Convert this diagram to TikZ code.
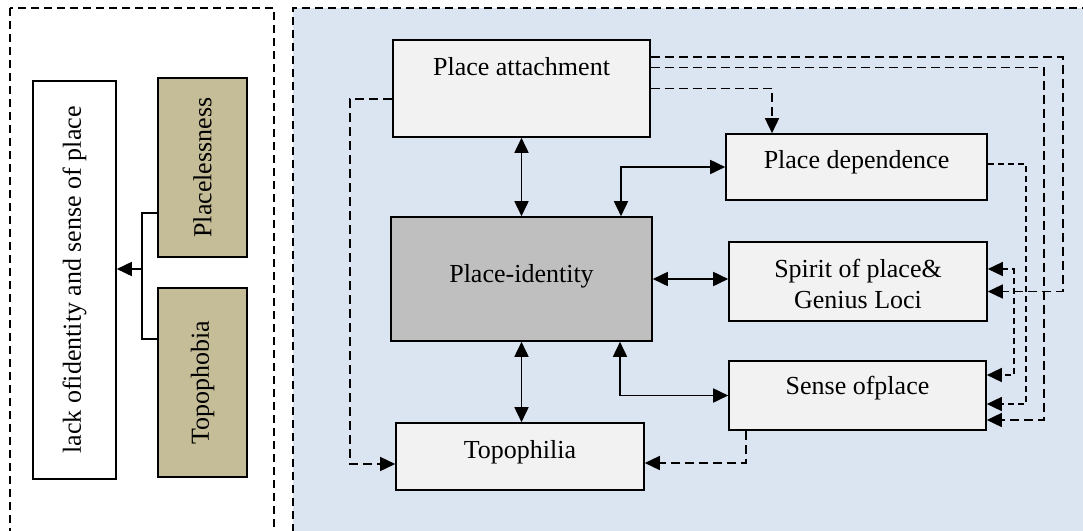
\documentclass[tikz,border=0pt]{standalone}
\usepackage{fontspec}
\setmainfont{Liberation Serif}
\usetikzlibrary{arrows.meta}
\definecolor{panelblue}{RGB}{219,228,241}
\definecolor{boxgray}{RGB}{242,242,242}
\definecolor{idgray}{RGB}{191,191,191}
\definecolor{khaki}{RGB}{196,189,151}
\tikzset{
  box/.style={draw=black, line width=1.6pt, rectangle, inner sep=0pt, fill=boxgray},
  lbl/.style={inner sep=0pt, font=\fontsize{26}{31}\selectfont, align=center},
  tip/.style={-{Triangle[length=15pt,width=14pt]}},
  dtip/.style={{Triangle[length=15pt,width=14pt]}-{Triangle[length=15pt,width=14pt]}},
  conn/.style={line width=1.7pt},
  dconn/.style={line width=1.5pt, dash pattern=on 9pt off 5pt},
  panel/.style={line width=1.6pt, dash pattern=on 8pt off 5pt}
}
\begin{document}
\begin{tikzpicture}[x=1pt,y=-1pt]
\clip (0,0) rectangle (1083,530);
\fill[white] (0,0) rectangle (1083,530);
% panels
\draw[panel] (10,8) rectangle (274,545);
\fill[panelblue] (293,8) rectangle (1095,545);
\draw[panel] (293,545) -- (293,8) -- (1095,8);
% left boxes
\node[box, fill=white, minimum width=83pt, minimum height=398pt] (lk) at (74.5,280) {};
\node[lbl, rotate=90] (lkt) at (lk.center) {lack ofidentity and sense of place};
\node[box, fill=khaki, minimum width=89pt, minimum height=179pt] (pl) at (202.5,167.5) {};
\node[lbl, rotate=90] (plt) at (pl.center) {Placelessness};
\node[box, fill=khaki, minimum width=89pt, minimum height=189pt] (tb) at (202.5,382.5) {};
\node[lbl, rotate=90] (tbt) at (tb.center) {Topophobia};
\coordinate (jn) at ([xshift=25pt,yshift=11pt]lk.east);
\draw[conn] ([yshift=-45.5pt]pl.west) -| (jn) |- ([yshift=43.5pt]tb.west);
\draw[conn, tip] (jn) -- (jn -| lk.east);
% right boxes
\node[box, minimum width=257pt, minimum height=97pt] (pa) at (521.5,88.5) {};
\node[lbl] (pat) at (521.5,67) {Place attachment};
\node[box, fill=idgray, minimum width=261pt, minimum height=124pt] (pi) at (521.5,279) {};
\node[lbl] (pit) at (521.5,276) {Place-identity};
\node[box, minimum width=248pt, minimum height=67pt] (tp) at (520,456.5) {};
\node[lbl] (tpt) at (520,452) {Topophilia};
\node[box, minimum width=261pt, minimum height=66pt] (pd) at (856.5,167) {};
\node[lbl] (pdt) at (856.5,162) {Place dependence};
\node[box, minimum width=258pt, minimum height=79pt] (sp) at (858,281.5) {};
\node[lbl] (spt) at (858,283.5) {Spirit of place\&\\Genius Loci};
\node[box, minimum width=257pt, minimum height=69pt] (se) at (857.5,395.5) {};
\node[lbl] (set) at (857.5,388) {Sense ofplace};
% solid connectors
\draw[conn, dtip] (pa.south) -- (pi.north);
\draw[conn, dtip] ([xshift=99.5pt]pi.north) |- (pd.west);
\draw[conn, dtip] (pi.east) -- (pi.east -| sp.west);
\draw[conn, dtip] ([xshift=98.5pt]pi.south) |- (se.west);
\draw[conn, dtip] (pi.south) -- (pi.south |- tp.north);
% dashed connectors
\draw[dconn, tip] ([yshift=-10.5pt]pa.west) -- ++(-42,0) |- ([yshift=-7.5pt]tp.west);
\draw[dconn, tip] ([xshift=18pt]se.south west) |- ([yshift=-6.5pt]tp.east);
\draw[dconn, tip] (pa.east) -| ([xshift=-84.5pt]pd.north);
\draw[dconn, tip] ([yshift=31.5pt]pa.east) -- ++(412,0) |- ([yshift=-10pt]sp.east);
\draw[dconn, tip] ([yshift=20.8pt]pa.east) -- ++(393,0) |- ([yshift=-24.5pt]se.east);
\draw[dconn, dash pattern=on 6pt off 4pt, tip] ([yshift=3pt]pd.east) -- ++(38,0) |- ([yshift=-8.5pt]se.east);
\draw[dconn, dash pattern=on 6pt off 4pt, dtip] ([yshift=12.5pt]sp.east) -- ++(26,0) |- ([yshift=20.5pt]se.east);
\end{tikzpicture}
\end{document}
